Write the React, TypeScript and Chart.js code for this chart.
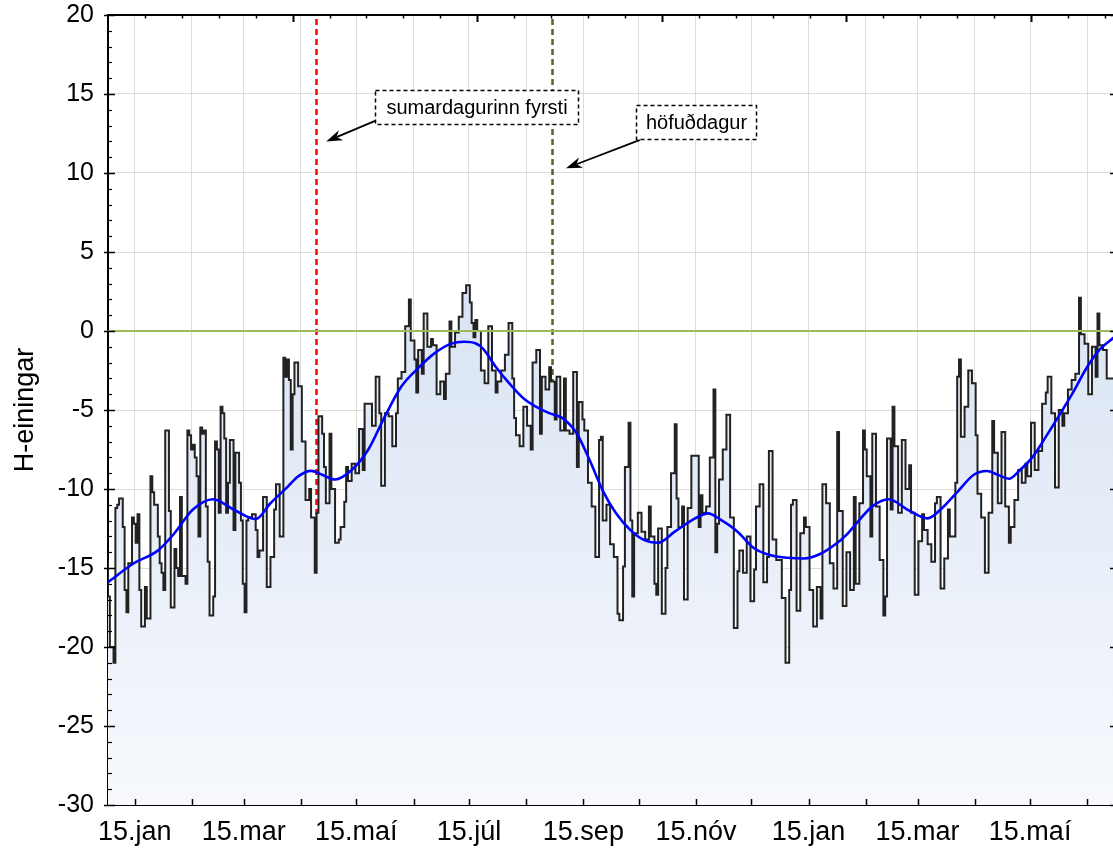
import React, { useEffect, useRef } from 'react';
import { Chart, registerables } from 'chart.js';

Chart.register(...registerables);

const FONT = '"Liberation Sans", Arial, Helvetica, sans-serif';

// Daily index series (step starts: day number counted from 1 January, value in H-einingar)
const stepDays = [
  0, 1, 3, 4, 5, 6, 8, 9, 10, 11, 13, 14, 15, 16, 17, 18, 20, 21, 23, 24, 25, 27, 28, 29, 30, 31, 33, 34, 36, 37, 38, 39, 40, 42, 43, 44, 45, 46, 47, 48, 49, 50, 51, 52, 53, 54, 55, 57, 58, 59, 60, 61, 62, 63, 64, 65, 66, 68, 69, 71, 72, 73, 74, 75, 76, 78, 80, 81, 82, 84, 86, 88, 90, 91, 93, 95,
  96, 97, 98, 99, 100, 101, 103, 105, 107, 109, 110, 112, 113, 114, 116, 117, 118, 120, 121, 123, 125, 126, 128, 129, 130, 132, 134, 136, 138, 139, 143, 145, 147, 148, 150, 152, 154, 156, 157, 159, 161, 163, 164, 166, 167, 168, 170, 171, 173, 175, 176, 178, 180, 182, 183, 185, 186, 188, 190, 192, 194, 196, 197,
  198, 199, 200, 202, 204, 206, 208, 210, 211, 213, 215, 217, 219, 220, 221, 223, 225, 227, 229, 230, 232, 234, 235, 237, 239, 240, 242, 243, 245, 247, 248, 250, 252, 254, 255, 257, 258, 260, 262, 264, 266, 267, 268, 270, 272, 274, 276, 277, 279, 280, 282, 283, 284, 285, 287, 289, 291, 293, 294, 296,
  297, 298, 300, 302, 303, 305, 307, 308, 309, 311, 312, 314, 316, 320, 321, 322, 324, 326, 328, 329, 330, 331, 333, 335, 337, 339, 341, 342, 344, 346, 348, 350, 351, 353, 355, 357, 358, 360, 362, 365, 367, 369, 370, 371, 373, 375, 377, 378, 380, 382, 384, 386, 387, 389, 391, 393, 395, 396, 398,
  400, 402, 404, 405, 407, 409, 410, 411, 413, 414, 416, 418, 420, 421, 422, 424, 425, 426, 428, 430, 432, 434, 435, 437, 439, 441, 442, 444, 446, 448, 449, 451, 453, 455, 456, 459, 460, 461, 462, 464, 466, 468, 470, 471, 473, 475, 477, 479, 480, 482, 484, 486, 488, 489, 491,
  493, 495, 497, 498, 500, 502, 504, 506, 508, 509, 511, 513, 515, 517, 518, 520, 522, 524, 526, 527, 529, 531, 533, 535, 536, 537, 539, 541, 543, 545,
];
const stepValues = [
  -14.5, -16.8, -20.0, -21.0, -11.2, -11.0, -10.6, -12.4, -16.4, -17.8, -14.7, -11.8, -12.2, -13.4, -11.6, -16.4, -18.7, -16.2, -18.2, -9.2, -10.2, -11.0, -13.0, -14.7, -15.3, -16.4, -6.3, -11.4, -17.5, -13.8, -15.0, -15.5, -10.5, -15.5, -16.0, -6.3, -6.6, -7.5, -7.2, -8.0, -9.2, -13.0, -6.1, -6.5, -6.3, -11.1, -14.6, -18.0, -16.8, -7.0, -7.5, -11.5, -4.8, -5.2, -6.8, -11.5, -9.6, -6.9, -12.6, -7.7, -9.6, -12.0, -16.0, -17.8, -12.0, -11.8, -11.6, -12.6, -14.3, -13.9, -10.5, -16.2, -14.3, -11.3, -9.7, -13.0,
  -1.7, -2.9, -1.8, -3.1, -7.5, -4.0, -2.0, -3.5, -7.0, -10.7, -10.0, -11.8, -15.3, -11.5, -5.4, -6.5, -8.6, -10.9, -6.5, -10.0, -13.4, -13.2, -12.4, -10.8, -8.6, -9.5, -8.4, -9.0, -6.2, -8.8, -4.6, -6.0, -2.9, -5.2, -9.8, -5.2, -5.4, -7.3, -5.2, -3.0, -2.6, 0.3, 2.0, -0.6, -1.8, -3.9, -1.2, -2.7, 1.1, -1.0, -0.5, -0.9, -4.0, -3.2, -4.3, -2.7, 0.6, -1.0, -0.1, 0.9, 2.4, 2.9, 1.8,
  0.5, -0.4, 0.7, 0.0, -2.5, -3.3, 0.3, -2.5, -3.9, -3.2, -2.5, -1.5, 0.5, -3.0, -5.5, -6.6, -7.3, -4.8, -6.0, -7.5, -2.0, -1.2, -6.5, -2.9, -3.7, -2.3, -3.2, -5.6, -2.9, -6.3, -3.0, -6.3, -6.5, -2.6, -8.6, -4.5, -5.6, -6.3, -9.6, -11.1, -14.3, -6.9, -6.7, -12.0, -11.0, -13.5, -14.3, -17.9, -18.3, -14.9, -8.6, -5.8, -12.0, -16.8, -12.8, -11.5, -12.7, -13.2, -11.1, -13.0,
  -16.0, -16.7, -12.5, -17.9, -15.0, -12.4, -9.0, -5.9, -10.6, -12.4, -11.1, -17.0, -11.2, -7.9, -12.4, -10.4, -11.5, -11.1, -8.0, -3.7, -14.0, -12.2, -9.4, -7.5, -5.3, -11.8, -18.8, -15.2, -13.9, -15.3, -13.0, -17.1, -15.1, -11.1, -9.7, -15.9, -14.3, -7.6, -13.2, -14.5, -16.9, -21.0, -16.4, -11.0, -10.7, -17.7, -12.8, -11.8, -12.4, -16.4, -18.7, -16.2, -18.2, -9.7, -10.9, -14.7, -16.3, -6.4, -11.4,
  -17.4, -14.0, -16.4, -10.5, -16.0, -10.9, -6.3, -7.5, -9.2, -13.0, -6.5, -11.1, -14.5, -18.0, -16.8, -6.8, -11.3, -4.8, -7.3, -11.5, -6.9, -10.0, -8.5, -11.5, -16.7, -13.3, -11.6, -12.6, -13.5, -14.6, -10.9, -10.5, -16.3, -14.4, -11.3, -13.0, -9.6, -2.9, -1.8, -6.7, -4.8, -2.5, -3.3, -6.6, -10.3, -11.8, -15.3, -11.5, -5.7, -7.7, -10.9, -6.4, -11.1, -13.4, -12.4,
  -10.7, -8.8, -9.6, -8.4, -9.2, -5.8, -8.8, -7.6, -4.6, -3.9, -2.9, -5.2, -9.9, -5.0, -6.0, -5.2, -3.7, -3.1, -2.7, 2.1, -0.2, -0.8, -4.0, -1.0, -2.9, 1.1, -0.9, -1.2, -3.0, -3.0,
];

// Smoothed curve
const trendDays = [0, 14, 27, 36, 46, 57, 68, 80, 88, 97, 103, 110, 116, 123, 132, 141, 150, 159, 168, 177, 186, 193, 199, 203, 210, 218, 225, 232, 239, 246, 254, 261, 268, 275, 283, 290, 298, 307, 318, 325, 332, 341, 350, 359, 368, 377, 386, 394, 400, 406, 414, 423, 433, 444, 451, 460, 469, 476, 482, 488, 494, 501, 508, 516, 523, 530, 537, 545];
const trendValues = [-15.9, -14.7, -13.9, -12.8, -11.3, -10.65, -11.3, -11.9, -10.9, -9.9, -9.2, -8.85, -9.1, -9.4, -8.8, -7.5, -5.4, -3.5, -2.35, -1.4, -0.8, -0.68, -0.78, -1.1, -2.26, -3.4, -4.26, -4.8, -5.2, -5.5, -6.5, -8.2, -10.1, -11.5, -12.6, -13.2, -13.4, -12.7, -11.86, -11.54, -11.96, -12.7, -13.75, -14.2, -14.35, -14.4, -14.1, -13.5, -12.9, -12.1, -11.1, -10.65, -11.3, -11.86, -11.3, -10.2, -9.1, -8.86, -9.1, -9.35, -8.8, -7.95, -6.7, -5.2, -3.84, -2.36, -1.2, -0.4];

// Zero reference line
const zeroDays = [0, 545];
const zeroValues = [0, 0];

// X axis (15th of each month) and labels
const monthTickDays = [14, 45, 73, 104, 134, 165, 195, 226, 257, 287, 318, 348, 379, 410, 438, 469, 499, 530];
const monthTickLabels = ['15.jan', '', '15.mar', '', '15.maí', '', '15.júl', '', '15.sep', '', '15.nóv', '', '15.jan', '', '15.mar', '', '15.maí', ''];

// Marker days (vertical dashed lines)
const markerDays = [112.5, 240.5];
const markerColors = ['#ff0000', '#56662b'];

// Annotations
const noteTexts = ['sumardagurinn fyrsti', 'höfuðdagur'];
const noteLeft = [144.7, 286];
const noteRight = [254.6, 351];
const noteTop = [15.25, 14.3];
const noteBottom = [13.1, 12.15];
const arrowFromDay = [144.7, 288.2];
const arrowFromVal = [13.3, 12.1];
const arrowToDay = [118.2, 248.1];
const arrowToVal = [12.0, 10.3];

const decorPlugin = {
  id: 'decor',
  beforeDatasetsDraw(chart: any) {
    const { ctx, chartArea: a, scales } = chart;
    const x = scales.x;
    ctx.save();
    ctx.lineWidth = 2.5;
    ctx.setLineDash([6, 4]);
    markerDays.forEach((d, i) => {
      const px = Math.round(x.getPixelForValue(d)) + 0.5;
      ctx.strokeStyle = markerColors[i];
      ctx.beginPath();
      ctx.moveTo(px, a.top + 4);
      ctx.lineTo(px, a.bottom);
      ctx.stroke();
    });
    ctx.restore();
  },
  afterDatasetsDraw(chart: any) {
    const { ctx, scales } = chart;
    const x = scales.x;
    const y = scales.y;
    ctx.save();
    noteTexts.forEach((t, i) => {
      const fx = x.getPixelForValue(arrowFromDay[i]);
      const fy = y.getPixelForValue(arrowFromVal[i]);
      const tx = x.getPixelForValue(arrowToDay[i]);
      const ty = y.getPixelForValue(arrowToVal[i]);
      const dx = tx - fx;
      const dy = ty - fy;
      const len = Math.sqrt(dx * dx + dy * dy);
      const ux = dx / len;
      const uy = dy / len;
      const nx = -uy;
      const ny = ux;
      const L = 16;
      const W = 5.5;
      ctx.setLineDash([]);
      ctx.strokeStyle = '#000';
      ctx.fillStyle = '#000';
      ctx.lineWidth = 1.8;
      ctx.beginPath();
      ctx.moveTo(fx, fy);
      ctx.lineTo(tx - ux * L * 0.7, ty - uy * L * 0.7);
      ctx.stroke();
      ctx.beginPath();
      ctx.moveTo(tx, ty);
      ctx.lineTo(tx - ux * L + nx * W, ty - uy * L + ny * W);
      ctx.lineTo(tx - ux * L * 0.7, ty - uy * L * 0.7);
      ctx.lineTo(tx - ux * L - nx * W, ty - uy * L - ny * W);
      ctx.closePath();
      ctx.fill();
      const l = Math.round(x.getPixelForValue(noteLeft[i])) + 0.5;
      const r = Math.round(x.getPixelForValue(noteRight[i])) + 0.5;
      const tp = Math.round(y.getPixelForValue(noteTop[i])) + 0.5;
      const bt = Math.round(y.getPixelForValue(noteBottom[i])) + 0.5;
      ctx.fillStyle = '#ffffff';
      ctx.fillRect(l, tp, r - l, bt - tp);
      ctx.setLineDash([4, 3]);
      ctx.lineWidth = 1.5;
      ctx.strokeStyle = '#000';
      ctx.strokeRect(l, tp, r - l, bt - tp);
      ctx.setLineDash([]);
      ctx.fillStyle = '#000';
      ctx.font = `20px ${FONT}`;
      ctx.textAlign = 'center';
      ctx.textBaseline = 'middle';
      ctx.fillText(t, (l + r) / 2, (tp + bt) / 2 + 1);
    });
    ctx.restore();
  },
  afterDraw(chart: any) {
    const { ctx, chartArea: a, scales } = chart;
    const x = scales.x;
    const y = scales.y;
    ctx.save();
    ctx.setLineDash([]);
    ctx.strokeStyle = '#000';
    ctx.lineWidth = 2;
    ctx.beginPath();
    ctx.moveTo(a.left - 1, a.top);
    ctx.lineTo(a.right, a.top);
    ctx.stroke();
    for (let v = -30; v <= 20; v++) {
      const py = Math.round(y.getPixelForValue(v)) + 0.5;
      const major = v % 5 === 0;
      ctx.lineWidth = major ? 1.5 : 1.2;
      ctx.beginPath();
      ctx.moveTo(a.left - (major ? 4 : 0), py);
      ctx.lineTo(a.left + (major ? 7 : 4), py);
      ctx.stroke();
    }
    for (let v = -30; v <= 20; v += 5) {
      const py = Math.round(y.getPixelForValue(v)) + 0.5;
      ctx.lineWidth = 1.5;
      ctx.beginPath();
      ctx.moveTo(a.right - 3, py);
      ctx.lineTo(a.right, py);
      ctx.stroke();
    }
    monthTickDays.forEach((d) => {
      const px = Math.round(x.getPixelForValue(d + 0.5)) + 0.5;
      ctx.lineWidth = 1.5;
      ctx.beginPath();
      ctx.moveTo(px, a.bottom);
      ctx.lineTo(px, a.bottom - 6);
      ctx.stroke();
    });
    for (let d = 20; d <= x.max; d += 20) {
      const px = Math.round(x.getPixelForValue(d)) + 0.5;
      const major = d % 100 === 0;
      ctx.lineWidth = major ? 2 : 1.5;
      ctx.beginPath();
      ctx.moveTo(px, a.top);
      ctx.lineTo(px, a.top + (major ? 7 : 3.5));
      ctx.stroke();
    }
    ctx.restore();
  },
};

export default function App() {
  const ref = useRef<HTMLCanvasElement>(null);
  useEffect(() => {
    const canvas = ref.current;
    if (!canvas) return;
    const chart = new Chart(canvas, {
      type: 'line',
      data: {
        datasets: [
          {
            label: 'trend',
            data: trendDays.map((d, i) => ({ x: d, y: trendValues[i] })),
            borderColor: '#0000ff',
            borderWidth: 2.6,
            pointRadius: 0,
            cubicInterpolationMode: 'monotone',
            fill: false,
            order: 0,
          },
          {
            label: 'zero',
            data: zeroDays.map((d, i) => ({ x: d, y: zeroValues[i] })),
            borderColor: '#9bbb59',
            borderWidth: 2,
            pointRadius: 0,
            fill: false,
            order: 1,
          },
          {
            label: 'H',
            data: stepDays.map((d, i) => ({ x: d, y: stepValues[i] })),
            stepped: 'after',
            borderColor: '#222222',
            borderWidth: 2,
            pointRadius: 0,
            fill: 'start',
            backgroundColor: (c: any) => {
              const ch = c.chart;
              const area = ch.chartArea;
              if (!area) return '#e2eaf6';
              const g = ch.ctx.createLinearGradient(0, area.top, 0, area.bottom);
              g.addColorStop(0, '#c9d8ee');
              g.addColorStop(1, '#f7f9fd');
              return g;
            },
            order: 2,
          },
        ],
      },
      options: {
        responsive: false,
        animation: false,
        devicePixelRatio: 1,
        layout: { padding: { top: 0, right: 0, left: 0, bottom: 0 } },
        plugins: { legend: { display: false }, tooltip: { enabled: false } },
        scales: {
          x: {
            type: 'linear',
            min: 0,
            max: 544.4,
            afterBuildTicks: (s: any) => {
              s.ticks = monthTickDays.map((d) => ({ value: d + 0.5 }));
            },
            afterFit: (s: any) => {
              s.height = 50;
              s.paddingLeft = 0;
              s.paddingRight = 0;
            },
            ticks: {
              autoSkip: false,
              maxRotation: 0,
              padding: 11,
              color: '#000',
              font: { family: FONT, size: 27 },
              callback: (_v: any, i: number) => monthTickLabels[i],
            },
            grid: { color: '#dcdcdc', lineWidth: 1, drawTicks: false },
            border: { color: '#000', width: 2 },
          },
          y: {
            min: -30,
            max: 20,
            afterFit: (s: any) => {
              s.width = 108;
              s.paddingTop = 15;
              s.paddingBottom = 0;
            },
            ticks: {
              stepSize: 5,
              padding: 14,
              color: '#000',
              font: { family: FONT, size: 25 },
            },
            grid: { color: '#dcdcdc', lineWidth: 1, drawTicks: false },
            border: { color: '#000', width: 2 },
            title: {
              display: true,
              text: 'H-einingar',
              color: '#000',
              font: { family: FONT, size: 27 },
              padding: { top: 9, bottom: 0 },
            },
          },
        },
      } as any,
      plugins: [decorPlugin],
    } as any);
    return () => chart.destroy();
  }, []);
  return (
    <div style={{ position: 'absolute', left: 0, top: 0, width: 1113, height: 855, background: '#ffffff', overflow: 'hidden' }}>
      <canvas ref={ref} width={1113} height={855} style={{ width: 1113, height: 855, display: 'block' }} />
    </div>
  );
}
